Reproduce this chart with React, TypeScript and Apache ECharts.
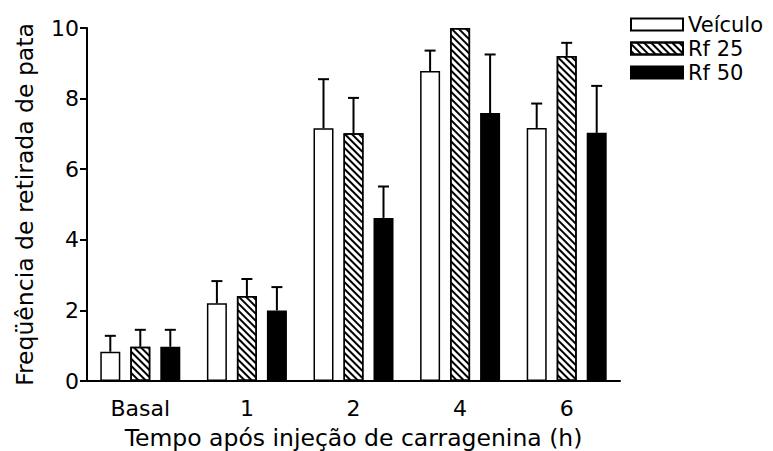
import React, { useEffect, useRef } from "react";
import * as echarts from "echarts";

// Categories (time after carrageenan injection)
const categories = ["Basal", "1", "2", "4", "6"];

// Mean paw-withdrawal frequency per group
const veiculo = [0.83, 2.2, 7.16, 8.78, 7.17];
const rf25 = [0.97, 2.41, 7.02, 10.0, 9.21];
const rf50 = [0.97, 2.0, 4.62, 7.59, 7.03];

// Upper error (SEM) per group
const veiculoErr = [0.45, 0.63, 1.39, 0.58, 0.69];
const rf25Err = [0.48, 0.48, 1.0, 0, 0.37];
const rf50Err = [0.48, 0.66, 0.89, 1.66, 1.33];

const seriesNames = ["Veículo", "Rf 25", "Rf 50"];
const yTicks = [0, 2, 4, 6, 8, 10];

const FONT = "'DejaVu Sans', Verdana, sans-serif";
const BAR_W = 20;
const BAR_GAP = 10;

function errorSeries(values: number[], errs: number[], slot: number) {
  const offset = slot * (BAR_W + BAR_GAP);
  return {
    type: "custom",
    silent: true,
    z: 5,
    data: values.map((v, i) => [i, v, errs[i]]),
    renderItem: (_params: any, api: any) => {
      const idx = api.value(0);
      const v = api.value(1);
      const e = api.value(2);
      if (!e) return { type: "group", children: [] };
      const base = api.coord([idx, v]);
      const top = api.coord([idx, v + e]);
      const x = base[0] + offset;
      const style = { stroke: "#000", lineWidth: 2 };
      return {
        type: "group",
        children: [
          { type: "line", shape: { x1: x, y1: base[1], x2: x, y2: top[1] }, style },
          { type: "line", shape: { x1: x - 5.5, y1: top[1], x2: x + 5.5, y2: top[1] }, style },
        ],
      };
    },
  };
}

export default function App() {
  const ref = useRef<HTMLDivElement>(null);

  useEffect(() => {
    if (!ref.current) return;
    const chart = echarts.init(ref.current, undefined, { renderer: "svg" });

    const barBase = {
      type: "bar",
      barWidth: BAR_W,
      barGap: "50%",
      z: 3,
    };

    chart.setOption({
      animation: false,
      backgroundColor: "#fff",
      textStyle: { fontFamily: FONT, color: "#000" },
      grid: {
        left: 87,
        top: 28,
        width: 533,
        bottom: 70,
        containLabel: false,
        outerBoundsMode: "none",
      },
      legend: {
        orient: "vertical",
        left: 630,
        top: 14,
        padding: 0,
        icon: "rect",
        itemWidth: 52,
        itemHeight: 12,
        itemGap: 3,
        data: seriesNames,
        textStyle: { fontFamily: FONT, fontSize: 21, color: "#000" },
      },
      xAxis: {
        type: "category",
        data: categories,
        name: "Tempo após injeção de carragenina (h)",
        nameLocation: "middle",
        nameGap: 45,
        nameTextStyle: { fontFamily: FONT, fontSize: 23.5, color: "#000" },
        axisLine: { lineStyle: { color: "#000", width: 2 } },
        axisTick: { show: false },
        axisLabel: { fontFamily: FONT, fontSize: 22, color: "#000", margin: 16 },
      },
      yAxis: {
        type: "value",
        min: yTicks[0],
        max: yTicks[yTicks.length - 1],
        interval: 2,
        name: "Freqüência de retirada de pata",
        nameLocation: "middle",
        nameGap: 50,
        nameTextStyle: { fontFamily: FONT, fontSize: 23.5, color: "#000" },
        axisLine: { show: true, lineStyle: { color: "#000", width: 2 } },
        axisTick: { show: true, length: 7, lineStyle: { color: "#000", width: 2 } },
        axisLabel: { fontFamily: FONT, fontSize: 22, color: "#000", margin: 8 },
        splitLine: { show: false },
      },
      series: [
        {
          ...barBase,
          name: seriesNames[0],
          data: veiculo,
          itemStyle: { color: "#fff", borderColor: "#000", borderWidth: 1.5 },
        },
        {
          ...barBase,
          name: seriesNames[1],
          data: rf25,
          itemStyle: {
            color: "#fff",
            borderColor: "#000",
            borderWidth: 1.5,
            decal: {
              symbol: "rect",
              symbolSize: 1,
              color: "#000",
              backgroundColor: "#fff",
              dashArrayX: [1, 0],
              dashArrayY: [2, 3],
              rotation: Math.PI / 4,
            },
          },
        },
        {
          ...barBase,
          name: seriesNames[2],
          data: rf50,
          itemStyle: { color: "#000", borderColor: "#000", borderWidth: 1.5 },
        },
        errorSeries(veiculo, veiculoErr, -1),
        errorSeries(rf25, rf25Err, 0),
        errorSeries(rf50, rf50Err, 1),
      ],
    });

    return () => chart.dispose();
  }, []);

  return (
    <div
      ref={ref}
      style={{ position: "fixed", left: 0, top: 0, width: 773, height: 451 }}
    />
  );
}
